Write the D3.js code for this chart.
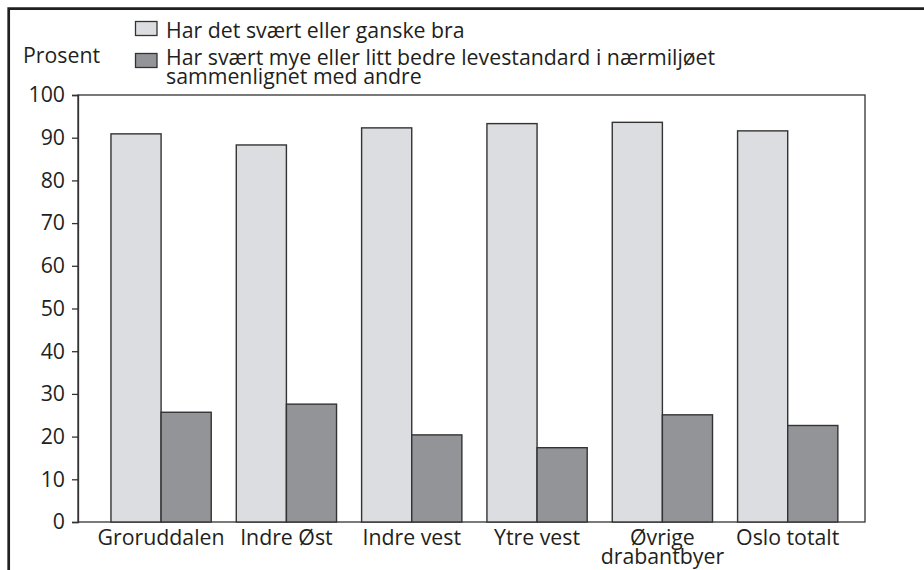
<!DOCTYPE html>
<html><head><meta charset="utf-8">
<script src="https://cdn.jsdelivr.net/npm/d3@7"></script>
<style>body{margin:0;background:#fff}svg{display:block}text{font-family:"Open Sans",sans-serif;fill:#231f20}</style>
</head><body>
<svg id="c" width="924" height="570"></svg>
<script>
const categories = [["Groruddalen"],["Indre Øst"],["Indre vest"],["Ytre vest"],["Øvrige","drabantbyer"],["Oslo totalt"]];
const seriesNames = ["Har det svært eller ganske bra", "Har svært mye eller litt bedre levestandard i nærmiljøet|sammenlignet med andre"];
const goodLife = [90.9, 88.3, 92.3, 93.3, 93.6, 91.6];
const betterStandard = [25.7, 27.6, 20.4, 17.4, 25.1, 22.6];
const yTicks = [0,10,20,30,40,50,60,70,80,90,100];
const yLabel = "Prosent";

const FS = 21.3;
const colors = ["#dcdde0", "#939498"];
const svg = d3.select("#c");
const L = 78, R = 865, T = 95, B = 522;
const x0 = d3.scaleBand().domain(categories.map((d,i)=>i)).range([L, 870.8]).paddingInner(0.2).paddingOuter(0.263);
const x1 = d3.scaleBand().domain([0,1]).range([0, x0.bandwidth()]);
const y = d3.scaleLinear().domain([0,100]).range([B, T]);

// outer frame
svg.append("path").attr("d", `M8.7,571 V8.7 H925`).attr("fill","none").attr("stroke","#231f20").attr("stroke-width",2.7);

// plot box
svg.append("rect").attr("x",L).attr("y",T).attr("width",R-L).attr("height",B-T).attr("fill","none").attr("stroke","#333").attr("stroke-width",1.3);

const series = [goodLife, betterStandard];
series.forEach((vals, s) => {
  svg.append("g").selectAll("rect").data(vals).join("rect")
    .attr("x", (d,i) => x0(i) + x1(s))
    .attr("y", d => y(d))
    .attr("width", x1.bandwidth())
    .attr("height", d => y(0) - y(d))
    .attr("fill", colors[s]).attr("stroke", "#333").attr("stroke-width", 1.4);
});

// y axis
const ya = svg.append("g").attr("transform",`translate(${L},0)`)
  .call(d3.axisLeft(y).tickValues(yTicks).tickSize(6).tickPadding(7));
ya.select(".domain").attr("stroke","#333").attr("stroke-width",1.3);
ya.selectAll(".tick line").attr("stroke","#333").attr("stroke-width",1.3);
ya.selectAll(".tick text").attr("font-size",FS).attr("font-family","Open Sans").attr("fill","#231f20");

// x labels
const xl = svg.append("g").selectAll("text").data(categories).join("text")
  .attr("text-anchor","middle").attr("font-size",FS)
  .attr("x",(d,i)=>x0(i)+x0.bandwidth()/2).attr("y",545);
xl.selectAll("tspan").data(d=>d).join("tspan")
  .attr("x",function(){return this.parentNode.getAttribute("x");})
  .attr("dy",(d,j)=>j===0?0:19).text(d=>d);

// y label
svg.append("text").attr("x",23).attr("y",62.5).attr("font-size",FS).text(yLabel);

// legend
const lg = svg.append("g");
series.forEach((v,s)=>{
  const yy = s===0 ? 21.5 : 53.5;
  lg.append("rect").attr("x",135.5).attr("y",yy).attr("width",21.5).attr("height",14)
    .attr("fill",colors[s]).attr("stroke","#333").attr("stroke-width",1.3);
  const t = lg.append("text").attr("x",166).attr("y", s===0 ? 37.5 : 65).attr("font-size",FS);
  seriesNames[s].split("|").forEach((line,j)=>{
    t.append("tspan").attr("x",166).attr("dy", j===0?0:19).text(line);
  });
});
</script>
</body></html>
